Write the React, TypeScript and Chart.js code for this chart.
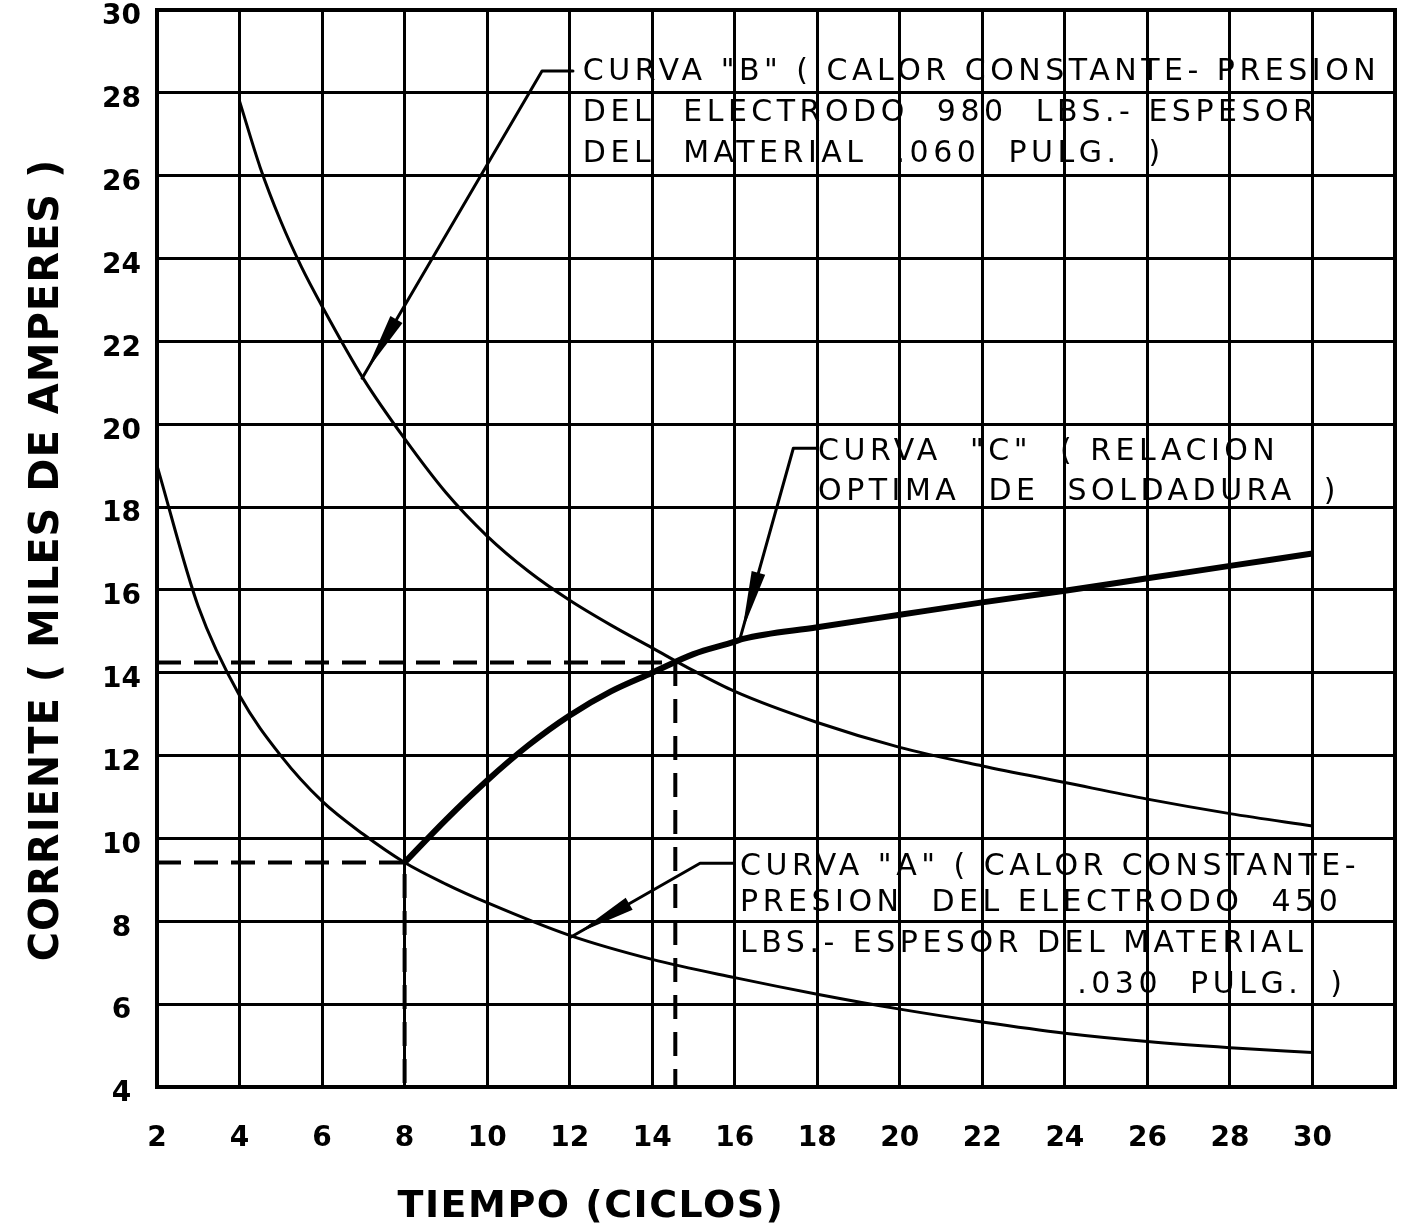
import React, { useEffect, useRef } from 'react';
import { Chart, registerables } from 'chart.js';

Chart.register(...registerables);

// ---- Data ----
const X_MIN = 2;
const X_MAX = 32;
const Y_MIN = 4;
const Y_MAX = 30;
const TICK_STEP = 2;

// Curve "A" (constant heat, 450 lbs, .030 in)
const curveAX = [2, 3, 4, 5, 6, 7, 8, 9, 10, 12, 14, 16, 18, 20, 22, 24, 26, 28, 30];
const curveAY = [19.0, 15.6, 13.45, 12.0, 10.9, 10.1, 9.42, 8.9, 8.45, 7.66, 7.08, 6.64, 6.24, 5.88, 5.57, 5.3, 5.1, 4.95, 4.83];

// Curve "B" (constant heat, 980 lbs, .060 in)
const curveBX = [4, 4.5, 5, 5.5, 6, 7, 8, 9, 10, 11, 12, 13, 14, 15, 16, 18, 20, 22, 24, 26, 28, 30];
const curveBY = [27.8, 26.2, 24.9, 23.8, 22.85, 21.1, 19.65, 18.35, 17.3, 16.45, 15.75, 15.15, 14.6, 14.05, 13.55, 12.8, 12.2, 11.75, 11.35, 10.95, 10.6, 10.3];

// Curve "C" (optimum welding relation)
const curveCX = [8, 9, 10, 11, 12, 13, 14, 15, 16, 16.2, 18, 20, 22, 24, 26, 28, 30];
const curveCY = [9.42, 10.45, 11.4, 12.25, 12.97, 13.55, 14.0, 14.45, 14.75, 14.82, 15.1, 15.4, 15.7, 15.98, 16.28, 16.58, 16.88];

// Reference (dashed) points: A meets C, and B meets C
const refPointsX = [8, 14.56];
const refPointsY = [9.42, 14.25];

// Annotation texts
const noteBLines = ['CURVA "B" ( CALOR CONSTANTE- PRESION', 'DEL  ELECTRODO  980  LBS.- ESPESOR', 'DEL  MATERIAL  .060  PULG.  )'];
const noteCLines = ['CURVA  "C"  ( RELACION', 'OPTIMA  DE  SOLDADURA  )'];
const noteALines = ['CURVA "A" ( CALOR CONSTANTE-', 'PRESION  DEL ELECTRODO  450', 'LBS.- ESPESOR DEL MATERIAL', '.030  PULG.  )'];

const X_TITLE = 'TIEMPO (CICLOS)';
const Y_TITLE = 'CORRIENTE ( MILES DE AMPERES )';

const toPts = (xs: number[], ys: number[]) => xs.map((x, i) => ({ x, y: ys[i] }));

const FONT = '"DejaVu Sans", "Liberation Sans", sans-serif';

function drawArrowHead(ctx: CanvasRenderingContext2D, fx: number, fy: number, tx: number, ty: number) {
  const dx = tx - fx;
  const dy = ty - fy;
  const L = Math.hypot(dx, dy);
  const ux = dx / L;
  const uy = dy / L;
  const ax = tx - ux * 8;
  const ay = ty - uy * 8;
  const bx = ax - ux * 60;
  const by = ay - uy * 60;
  const nx = -uy;
  const ny = ux;
  ctx.beginPath();
  ctx.moveTo(ax, ay);
  ctx.lineTo(bx + nx * 7, by + ny * 7);
  ctx.lineTo(bx - nx * 7, by - ny * 7);
  ctx.closePath();
  ctx.fill();
}

const annotationPlugin = {
  id: 'curveNotes',
  afterDatasetsDraw(chart: any) {
    const { ctx, chartArea } = chart;
    const xs = chart.scales.x;
    const ys = chart.scales.y;
    const px = (v: number) => xs.getPixelForValue(v);
    const py = (v: number) => ys.getPixelForValue(v);

    ctx.save();
    // outer frame
    ctx.strokeStyle = '#000';
    ctx.lineWidth = 4;
    ctx.strokeRect(chartArea.left, chartArea.top, chartArea.right - chartArea.left, chartArea.bottom - chartArea.top);

    const notes = [
      { lines: noteBLines, tx: 12.32, ty: [28.31, 27.32, 26.33], lead: [[12.08, 28.53], [11.33, 28.53], [6.97, 21.11]], lastX: null },
      { lines: noteCLines, tx: 18.02, ty: [19.13, 18.16], lead: [[18.0, 19.42], [17.42, 19.42], [16.13, 14.83]], lastX: null },
      { lines: noteALines, tx: 16.13, ty: [9.11, 8.26, 7.25, 6.26], lead: [[15.98, 9.4], [15.16, 9.4], [12.01, 7.61]], lastX: 24.3 },
    ];

    for (const n of notes) {
      // leader
      ctx.lineWidth = 3;
      ctx.lineJoin = 'round';
      ctx.lineCap = 'round';
      ctx.beginPath();
      ctx.moveTo(px(n.lead[0][0]), py(n.lead[0][1]));
      ctx.lineTo(px(n.lead[1][0]), py(n.lead[1][1]));
      ctx.lineTo(px(n.lead[2][0]), py(n.lead[2][1]));
      ctx.stroke();
      ctx.fillStyle = '#000';
      drawArrowHead(ctx, px(n.lead[1][0]), py(n.lead[1][1]), px(n.lead[2][0]), py(n.lead[2][1]));

      // text
      ctx.font = `30px ${FONT}`;
      (ctx as any).letterSpacing = '4.5px';
      ctx.textAlign = 'left';
      ctx.textBaseline = 'alphabetic';
      n.lines.forEach((line: string, i: number) => {
        const isLast = i === n.lines.length - 1 && n.lastX !== null;
        const x0 = isLast ? px(n.lastX as number) : px(n.tx);
        ctx.fillText(line, x0, py(n.ty[i]));
      });
    }
    ctx.restore();
  },
  afterDraw(chart: any) {
    const { ctx } = chart;
    ctx.save();
    ctx.fillStyle = '#000';
    ctx.font = `bold 38px ${FONT}`;
    (ctx as any).letterSpacing = '1.5px';
    ctx.textAlign = 'center';
    ctx.textBaseline = 'alphabetic';
    ctx.fillText(X_TITLE, 591, 1217);

    ctx.font = `bold 40px ${FONT}`;
    (ctx as any).letterSpacing = '1px';
    ctx.translate(58, 560);
    ctx.rotate(-Math.PI / 2);
    ctx.fillText(Y_TITLE, 0, 0);
    ctx.restore();
  },
};

export default function App() {
  const canvasRef = useRef<HTMLCanvasElement | null>(null);

  useEffect(() => {
    const canvas = canvasRef.current;
    if (!canvas) return;
    const chart = new Chart(canvas, {
      type: 'line',
      data: {
        datasets: [
          {
            label: 'Curva A',
            data: toPts(curveAX, curveAY),
            borderColor: '#000',
            borderWidth: 3,
            pointRadius: 0,
            cubicInterpolationMode: 'monotone',
            fill: false,
          },
          {
            label: 'Curva B',
            data: toPts(curveBX, curveBY),
            borderColor: '#000',
            borderWidth: 3,
            pointRadius: 0,
            cubicInterpolationMode: 'monotone',
            fill: false,
          },
          {
            label: 'Curva C',
            data: toPts(curveCX, curveCY),
            borderColor: '#000',
            borderWidth: 6,
            pointRadius: 0,
            cubicInterpolationMode: 'monotone',
            fill: false,
          },
          {
            label: 'ref A-C',
            data: [
              { x: X_MIN, y: refPointsY[0] },
              { x: refPointsX[0], y: refPointsY[0] },
              { x: refPointsX[0], y: Y_MIN },
            ],
            borderColor: '#000',
            borderWidth: 4,
            borderDash: [24, 13],
            pointRadius: 0,
            tension: 0,
            fill: false,
          },
          {
            label: 'ref B-C',
            data: [
              { x: X_MIN, y: refPointsY[1] },
              { x: refPointsX[1], y: refPointsY[1] },
              { x: refPointsX[1], y: Y_MIN },
            ],
            borderColor: '#000',
            borderWidth: 4,
            borderDash: [24, 13],
            pointRadius: 0,
            tension: 0,
            fill: false,
          },
        ],
      },
      options: {
        animation: false,
        responsive: true,
        maintainAspectRatio: false,
        parsing: false as any,
        layout: { padding: { left: 0, right: 19, top: 10, bottom: 0 } },
        plugins: {
          legend: { display: false },
          tooltip: { enabled: false },
          title: { display: false },
        },
        scales: {
          x: {
            type: 'linear',
            min: X_MIN,
            max: X_MAX,
            afterFit: (scale: any) => {
              scale.height = 139;
            },
            ticks: {
              stepSize: TICK_STEP,
              color: '#000',
              padding: 0,
              font: { family: FONT, size: 28, weight: 'bold', lineHeight: 0.8 },
              callback: (v: any) => (Number(v) >= X_MAX ? '' : String(v)),
              maxRotation: 0,
              autoSkip: false,
            },
            grid: { color: '#000', lineWidth: 3, drawTicks: true, tickLength: 41, tickColor: 'rgba(0,0,0,0)' },
            border: { display: true, color: '#000', width: 4 },
          },
          y: {
            type: 'linear',
            min: Y_MIN,
            max: Y_MAX,
            afterFit: (scale: any) => {
              scale.width = 157;
            },
            ticks: {
              stepSize: TICK_STEP,
              color: '#000',
              padding: 0,
              labelOffset: 7,
              crossAlign: 'center',
              font: { family: FONT, size: 28, weight: 'bold', lineHeight: 0.7 },
              autoSkip: false,
            },
            grid: { color: '#000', lineWidth: 3, drawTicks: true, tickLength: 16, tickColor: 'rgba(0,0,0,0)' },
            border: { display: true, color: '#000', width: 4 },
          },
        },
      },
      plugins: [annotationPlugin],
    });
    return () => chart.destroy();
  }, []);

  return (
    <div style={{ position: 'absolute', left: 0, top: 0, width: 1414, height: 1226, background: '#fff' }}>
      <canvas ref={canvasRef} />
    </div>
  );
}
